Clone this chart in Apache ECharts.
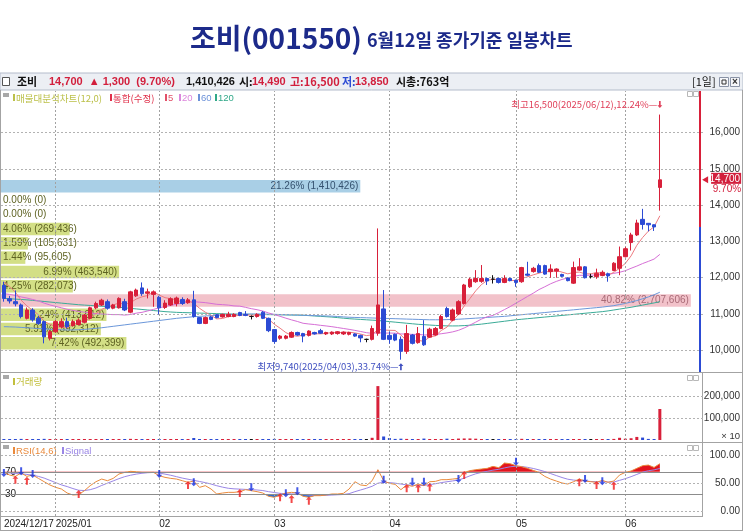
<!DOCTYPE html>
<html>
<head>
<meta charset="utf-8">
<script src="https://cdn.jsdelivr.net/npm/echarts@6.0.0/dist/echarts.min.js"></script>
<style>
html,body{margin:0;padding:0;background:#ffffff;}
#chart{width:743px;height:532px;}
</style>
</head>
<body>
<div id="chart"></div>
<script>
// ================= DATA =================
const tradingDays = {
  '2024/12': [17,18,19,20,23,24,26,27,30],
  '2025/01': [2,3,6,7,8,9,10,13,14,15,16,17,20,21,22,23,24,31],
  '2025/02': [3,4,5,6,7,10,11,12,13,14,17,18,19,20,21,24,25,26,27,28],
  '2025/03': [4,5,6,7,10,11,12,13,14,17,18,19,20,21,24,25,26,27,28,31],
  '2025/04': [1,2,3,4,7,8,9,10,11,14,15,16,17,18,21,22,23,24,25,28,29,30],
  '2025/05': [2,7,8,9,12,13,14,15,16,19,20,21,22,23,26,27,28,29,30],
  '2025/06': [2,4,5,9,10,11,12]
};
const tickDates  = ['2024/12/17','2025/01/02','2025/02/03','2025/03/04','2025/04/01','2025/05/02','2025/06/02'];
const tickLabels = ['2024/12/17','2025/01','02','03','04','05','06'];

const opens = [11790,11420,11340,11250,10880,11110,10880,10790,10330,10510,
10650,10790,10680,10710,10770,10880,11170,11250,11340,11160,
11170,11340,11050,11500,11720,11570,11540,11460,11180,11250,
11290,11400,11310,11390,10900,10740,10920,10980,10920,10930,
10930,11040,10990,10930,10930,11050,10880,10570,10330,10330,
10360,10490,10460,10410,10490,10540,10450,10450,10460,10450,
10440,10450,10410,10300,10300,10470,11140,10410,10440,10300,
9970,10420,10210,10380,10360,10420,10600,11150,10830,11000,
11290,11750,11890,11900,11980,11960,11980,11870,11980,11930,
11890,12100,12170,12335,12335,12170,12180,12090,11990,11850,
12210,12300,12030,12030,12060,12110,12200,12260,12580,12970,
13180,13610,13500,13460,14490];
const closes = [11430,11360,11280,10930,11110,10840,10740,10370,10510,10790,
10790,10650,10790,10830,10970,11170,11290,11380,11160,11250,
11430,11110,11610,11660,11560,11610,11610,11170,11300,11420,
11440,11290,11390,10930,10740,10900,10850,10900,10990,10990,
10990,10960,10960,10930,10990,10880,10540,10240,10390,10390,
10490,10420,10390,10530,10450,10470,10490,10500,10510,10500,
10490,10390,10340,10300,10600,11250,10300,10300,10280,9970,
10460,10190,10460,10150,10580,10600,10930,10930,11110,11340,
11800,11960,11980,11980,11910,11960,11870,11980,11920,11870,
12280,12070,12260,12150,12100,12240,12240,12040,11920,12280,
12300,12000,12030,12120,12150,12050,12400,12580,12800,13180,
13510,13470,13460,13400,14700];
const lows = [11340,11290,11210,10880,10850,10790,10700,10190,10270,10480,
10600,10600,10650,10680,10740,10850,11130,11220,11120,11130,
11150,11080,11020,11470,11500,11430,11200,10990,11140,11220,
11210,11250,11280,10900,10720,10720,10830,10880,10900,10910,
10910,10940,10940,10850,10900,10860,10500,10180,10290,10300,
10340,10400,10220,10380,10430,10450,10420,10420,10430,10420,
10410,10370,10220,10220,10270,10400,10280,10180,10250,9740,
9900,10160,10180,10120,10340,10400,10580,10900,10800,10970,
11260,11720,11860,11860,11800,11840,11840,11850,11900,11750,
11860,12040,12140,12130,12080,12000,12000,12020,11900,11830,
12190,11980,11980,11970,12040,11890,12180,12070,12560,12750,
13150,13330,13280,13290,13850];
const highs = [11890,11500,11650,11290,11180,11160,10950,10820,10560,10830,
10880,10900,10850,10880,11000,11200,11340,11420,11400,11280,
11460,11420,11640,11700,11870,11700,11650,11500,11380,11460,
11480,11460,11440,11640,10920,10930,10950,11000,11010,11060,
11020,11060,11080,10960,11020,11080,10900,10580,10420,10420,
10520,10510,10480,10550,10510,10590,10510,10520,10530,10520,
10510,10470,10430,10320,10680,13360,11660,10510,10460,10380,
10700,10450,10640,10830,10620,10640,10980,11200,11150,11380,
11830,12000,12210,12350,12000,12070,12000,12070,12000,11950,
12300,12440,12300,12390,12360,12370,12260,12110,12010,12445,
12540,12320,12110,12250,12200,12140,12430,12860,12850,13240,
13600,13900,13510,13470,16500];
// volume in units of x10 shares
const volumes = [4500,3500,3800,5000,3200,3600,3000,5200,3400,3800,
3000,2800,2600,3000,3200,3800,3600,3200,2800,2600,
3400,3000,5200,3600,4200,3000,3200,4000,2600,2800,
3000,2600,2800,9000,4200,3000,2600,2400,2400,2600,
2400,2600,2400,2200,2400,3000,4200,5000,3000,2600,
2800,2400,3000,2600,2400,2600,2400,2400,2600,2400,
2400,2600,3000,2800,10000,245000,16000,9000,5000,6000,
5000,3600,4000,6500,3800,3400,4400,6000,4000,6500,
7000,7000,6000,4500,3800,3400,3600,3600,3200,3400,
5400,4000,3600,3400,3400,3200,2800,3000,3200,4600,
3800,3600,2800,3200,3000,3200,5000,10000,6000,8000,
14000,11000,5000,4000,141043];
const ma5 = [11880,11760,11600,11380,11222,11104,10980,10800,10714,10650,
10640,10622,10706,10770,10806,10882,11010,11128,11194,11250,
11302,11266,11312,11412,11474,11510,11610,11522,11450,11422,
11388,11324,11368,11294,11158,11050,10962,10864,10876,10926,
10944,10966,10978,10966,10966,10944,10860,10716,10608,10488,
10410,10386,10416,10444,10456,10452,10466,10488,10484,10494,
10498,10478,10446,10404,10424,10576,10558,10550,10546,10420,
10262,10240,10272,10246,10368,10396,10544,10638,10830,10982,
11222,11428,11638,11812,11926,11958,11940,11940,11928,11920,
11984,12024,12080,12126,12172,12164,12198,12154,12108,12144,
12156,12108,12106,12146,12120,12070,12150,12260,12396,12602,
12894,13108,13284,13404,13708];
const ma20 = [11560,11540,11510,11470,11440,11400,11360,11300,11250,11210,
11170,11130,11100,11070,11050,11030,11010,11000,10990,10982,
10982,10970,10986,11023,11045,11084,11127,11167,11207,11238,
11271,11303,11333,11338,11326,11313,11291,11267,11258,11245,
11223,11216,11183,11147,11118,11082,11028,10982,10936,10885,
10837,10794,10744,10724,10709,10688,10670,10650,10626,10601,
10576,10548,10517,10485,10466,10484,10472,10475,10470,10449,
10447,10436,10439,10420,10427,10433,10455,10477,10507,10549,
10614,10693,10775,10859,10924,10960,11038,11122,11204,11299,
11390,11484,11574,11674,11750,11832,11898,11953,11994,12041,
12066,12068,12070,12077,12089,12094,12120,12150,12194,12260,
12321,12391,12451,12514,12644];
const ma60 = [10650,10645,10640,10630,10620,10610,10600,10590,10580,10570,
10565,10560,10560,10565,10575,10590,10605,10620,10640,10660,
10680,10700,10720,10740,10760,10780,10800,10820,10840,10860,
10880,10895,10910,10925,10935,10945,10955,10965,10975,10980,
10985,10990,10995,11000,11000,11000,10995,10990,10985,10980,
10975,10970,10965,10960,10955,10950,10945,10940,10930,10920,
10910,10905,10900,10895,10890,10885,10880,10875,10870,10865,
10860,10855,10850,10845,10840,10840,10840,10845,10850,10855,
10865,10875,10885,10895,10905,10915,10925,10935,10950,10965,
10980,10995,11010,11025,11040,11055,11070,11085,11100,11115,
11130,11145,11160,11175,11190,11210,11230,11260,11290,11330,
11370,11420,11470,11530,11600];
const ma120 = [11430,11420,11410,11400,11390,11375,11360,11345,11330,11315,
11300,11285,11270,11255,11245,11235,11225,11215,11205,11195,
11185,11170,11155,11140,11125,11110,11095,11080,11065,11055,
11045,11040,11035,11030,11025,11020,11015,11010,11005,11000,
10998,10995,10992,10990,10987,10985,10982,10980,10977,10975,
10972,10970,10965,10955,10945,10935,10925,10915,10900,10885,
10870,10860,10850,10840,10830,10820,10805,10790,10775,10760,
10745,10730,10715,10705,10695,10685,10678,10672,10670,10672,
10680,10690,10705,10720,10740,10760,10780,10800,10820,10840,
10855,10870,10885,10900,10915,10930,10945,10960,10975,10990,
11005,11020,11035,11050,11065,11085,11110,11135,11160,11185,
11215,11245,11275,11305,11340];
const rsi = [69.1,64.4,62,68,62,64.4,58.5,52.6,46.8,42.6,
39.7,32.6,29.1,29.7,36.8,45.6,52.6,57.3,54.4,58.5,
66.2,69.1,70.9,70.3,69.1,69.1,69.1,63.2,60.3,58.5,
57.3,54.4,51.5,53.8,42.6,45.6,39.7,30.9,32.6,33.8,
33.8,35,38.5,36.8,35,32.6,26.8,25,29.1,32.6,
33.8,32.6,26.8,25,27.9,27.9,29.1,30.9,30.9,32,
39.7,52.6,46.8,45.6,54.4,73.8,54.4,49.7,47.9,38.5,
46.8,44.4,48.5,45.6,52.6,53.2,56.2,56.2,57.3,58.5,
69.1,72.1,73.8,75,76.2,79.7,77.3,85.6,84.4,80.9,
79.1,76.2,72.6,69.1,62,57.3,53.8,50.3,48.5,52.6,
57.3,53.8,52.6,51.5,55,51.5,53.8,64.4,69.1,71.5,
76.2,80.9,82,77.9,84.4];
const rsiSignal = [69,68,67,66.5,65.5,64,62,59,55,51,
47,44,40.5,37.5,37,38.5,41.5,46,50,54,
58,61.5,64,66,67.5,68.5,69,68,66,64,
61.5,59,57,55,53,51,48.5,45.5,43,41,
40,39.5,39,38.5,38,37,35,33.5,32,31.5,
31,30.5,30,29,28.5,28.5,28.5,29,29.5,30,
31.5,35,38,41,44.5,50,51.5,51,50,48.5,
47,46.5,46,46,47.5,49,51,52.5,54,55.5,
59,63,66.5,69,71,73,74.5,77,79,80,
79.5,78,76,73.5,70.5,67,63.5,60,57,55.5,
54.5,54,53,52.5,52.5,52,52,55,58,61.5,
65.5,69.5,72,73.5,76];
// [day index, RSI level of arrow]
const buySignals  = [[2,56.2],[4,54.4],[13,31],[32,46.8],[41,32.6],[48,25],[50,22],[53,19.1],[70,40.9],[72,40.9],[74,42.6],[80,64.4],[100,51.5],[103,46.8],[106,45.6]];
const sellSignals = [[0,67.9],[3,70.9],[5,66.2],[27,66.2],[33,51.5],[43,42.6],[49,32],[51,35.6],[66,56.2],[71,52.6],[73,52.6],[79,57.3],[89,87.9],[101,57.3],[104,53.2]];

// volume profile (매물대) bands, top to bottom
const bandPct = [21.26,0,0,4.06,1.59,1.44,6.99,4.25,40.82,6.24,5.91,7.42];
const bandVol = [1410426,0,0,269436,105631,95605,463540,282073,2707606,413912,392312,492399];

const priceTicks = [10000,11000,12000,13000,14000,15000,16000];
const volTicks = [100000,200000];
const rsiTicks = [0,50,100];
const rsiLevels = [30,70];

const stockName = '조비', stockCode = '001550';
const lastClose = 14700, change = 1300, changePct = 9.70, todayVol = 1410426;
const todayOpen = 14490, todayHigh = 16500, todayLow = 13850, marketCap = '763억';

// ================= CHART =================
const FONT = "'Liberation Sans','Noto Sans CJK KR',sans-serif";
const KFONT = "'Noto Sans CJK KR','Liberation Sans',sans-serif";
const UP = '#d8203a', DN = '#2c4bd4', DOJI = '#111111';
const fmt = v => v.toLocaleString('en-US');

const dates = [];
Object.keys(tradingDays).forEach(ym => tradingDays[ym].forEach(d => dates.push(ym + '/' + String(d).padStart(2, '0'))));
const cats = dates.concat(['p1','p2','p3','p4','p5','p6','p7']);
const edgeCat = cats[cats.length - 1];
const prevClose = lastClose - change;
const Y_MIN = 9400, Y_MAX = 17150;

let hiIdx = 0, loIdx = 0;
highs.forEach((h, i) => { if (h > highs[hiIdx]) hiIdx = i; });
lows.forEach((l, i) => { if (l < lows[loIdx]) loIdx = i; });
const hiPct = ((highs[hiIdx] - lastClose) / lastClose * 100).toFixed(2);
const loPct = ((lastClose - lows[loIdx]) / lastClose * 100).toFixed(2);

const ARROW_UP = 'path://M3,0L6,4L4,4L4,10L2,10L2,4L0,4Z';
const ARROW_DN = 'path://M2,0L4,0L4,6L6,6L3,10L0,6L2,6Z';

const maxBand = Math.max(...bandPct);
const bandData = bandPct.map((p, i) => {
  const isCur = i === 0, isMax = p === maxBand;
  return {
    value: p,
    itemStyle: { color: isCur ? '#a9cfe6' : isMax ? '#f2c2ca' : '#d3df86' },
    label: {
      position: p * 16.9 > 78 ? 'insideRight' : 'insideLeft',
      distance: 2,
      color: isCur ? '#34506e' : isMax ? '#a86a76' : '#5e6222'
    }
  };
});

const catAxis = (gi, showLabels) => ({
  type: 'category', gridIndex: gi, data: cats, boundaryGap: true,
  axisLine: { show: false }, axisTick: { show: false }, splitLine: { show: false },
  axisLabel: showLabels ? {
    show: true, interval: (idx) => tickDates.indexOf(cats[idx]) >= 0,
    formatter: (v) => tickLabels[tickDates.indexOf(v)] || '',
    align: 'left', margin: 3, fontSize: 10, color: '#222', fontFamily: FONT
  } : { show: false }
});

const rightLabel = (vals, f) => ({
  show: true, customValues: vals, formatter: f, align: 'right', margin: 37,
  fontSize: 10, color: '#333', fontFamily: FONT
});

// grid guide lines (dotted), drawn as markLines on the first series of each pane
const vGuide = { color: '#a2a2a2', width: 1, type: [2, 2] };
const hGuide = { color: '#b2b2b2', width: 1, type: [2, 2] };
const guideLines = (yTicks) => ({
  silent: true, symbol: ['none', 'none'], label: { show: false }, animation: false, precision: 10,
  data: tickDates.slice(1).map(d => ({ xAxis: d, lineStyle: vGuide }))
    .concat(yTicks.map(v => ({ yAxis: v, lineStyle: hGuide })))
});

const option = {
  animation: false,
  backgroundColor: '#ffffff',
  textStyle: { fontFamily: FONT },
  grid: [
    { left: 1, right: 40, top: 91, height: 281, outerBoundsMode: 'none' },
    { left: 1, right: 40, top: 374, height: 66, outerBoundsMode: 'none' },
    { left: 1, right: 40, top: 443, height: 73, outerBoundsMode: 'none' },
    { left: 1, right: 40, top: 179, height: 171.5, outerBoundsMode: 'none' }
  ],
  xAxis: [
    catAxis(0, false), catAxis(1, false), catAxis(2, true),
    { type: 'value', gridIndex: 3, min: 0, max: 702 / 16.9, show: false }
  ],
  yAxis: [
    { type: 'value', gridIndex: 0, position: 'right', min: Y_MIN, max: Y_MAX,
      axisLine: { show: false }, axisTick: { show: false }, splitLine: { show: false },
      axisLabel: rightLabel(priceTicks, fmt) },
    { type: 'value', gridIndex: 1, position: 'right', min: 0, max: 300000,
      axisLine: { show: false }, axisTick: { show: false }, splitLine: { show: false },
      axisLabel: rightLabel(volTicks, fmt) },
    { type: 'value', gridIndex: 2, position: 'right', min: -8, max: 121,
      axisLine: { show: false }, axisTick: { show: false }, splitLine: { show: false },
      axisLabel: rightLabel(rsiTicks, v => v.toFixed(2)) },
    { type: 'value', gridIndex: 2, position: 'left', min: -8, max: 121,
      axisLine: { show: false }, axisTick: { show: false }, splitLine: { show: false },
      axisLabel: { show: true, inside: true, customValues: rsiLevels, margin: 4, fontSize: 10, color: '#222', fontFamily: FONT } },
    { type: 'category', gridIndex: 3, inverse: true, data: bandPct.map((p, i) => 'b' + i), show: false }
  ],
  visualMap: [{
    type: 'piecewise', show: false, seriesIndex: 8, dimension: 1,
    pieces: [
      { gt: 70, color: '#e3141e' },
      { lt: 30, color: '#2f6fd0' },
      { gte: 30, lte: 70, color: 'rgba(255,255,255,0)' }
    ]
  }],
  series: [
    // 0 volume profile
    { type: 'bar', xAxisIndex: 3, yAxisIndex: 4, data: bandData, barWidth: 12.5, z: 1, silent: true,
      label: { show: true, fontSize: 10, fontFamily: FONT,
        formatter: p => bandPct[p.dataIndex].toFixed(2) + '% (' + fmt(bandVol[p.dataIndex]) + ')' } },
    // 1 MA120 (carries price-pane guides)
    { type: 'line', xAxisIndex: 0, yAxisIndex: 0, data: ma120, showSymbol: false, z: 3, silent: true,
      lineStyle: { color: '#3aab97', width: 1 }, markLine: guideLines(priceTicks) },
    // 2 MA60
    { type: 'line', xAxisIndex: 0, yAxisIndex: 0, data: ma60, showSymbol: false, z: 3, silent: true,
      lineStyle: { color: '#6b97da', width: 1 } },
    // 3 MA20
    { type: 'line', xAxisIndex: 0, yAxisIndex: 0, data: ma20, showSymbol: false, z: 3, silent: true,
      lineStyle: { color: '#d66fd6', width: 1 } },
    // 4 MA5
    { type: 'line', xAxisIndex: 0, yAxisIndex: 0, data: ma5, showSymbol: false, z: 3, silent: true,
      lineStyle: { color: '#ee7b80', width: 1 } },
    // 5 candles
    { type: 'candlestick', xAxisIndex: 0, yAxisIndex: 0, z: 5, barWidth: 4,
      data: dates.map((d, i) => [opens[i], closes[i], lows[i], highs[i]]),
      itemStyle: { color: UP, color0: DN, borderColor: UP, borderColor0: DN, borderColorDoji: DOJI, borderWidth: 1 },
      markLine: { silent: true, symbol: ['none', 'none'], label: { show: false }, animation: false,
        data: [
          [{ coord: [edgeCat, Y_MIN], lineStyle: { color: DN, width: 2, type: 'solid' } }, { coord: [edgeCat, prevClose] }],
          [{ coord: [edgeCat, prevClose], lineStyle: { color: UP, width: 2, type: 'solid' } }, { coord: [edgeCat, Y_MAX] }]
        ] },
      markPoint: { silent: true, animation: false, data: [
        { coord: [dates[hiIdx], highs[hiIdx]], symbol: ARROW_DN, symbolSize: [5, 7], symbolOffset: [0, -10],
          itemStyle: { color: '#e0405a' },
          label: { show: true, position: 'left', distance: 0, color: '#e0405a', fontSize: 9.5, fontFamily: KFONT,
            formatter: '최고' + fmt(highs[hiIdx]) + '(' + dates[hiIdx] + '),' + hiPct + '%—' } },
        { coord: [dates[loIdx], lows[loIdx]], symbol: ARROW_UP, symbolSize: [5, 7], symbolOffset: [0, 7],
          itemStyle: { color: '#4050c0' },
          label: { show: true, position: 'left', distance: 0, color: '#4050c0', fontSize: 9.5, fontFamily: KFONT,
            formatter: '최저' + fmt(lows[loIdx]) + '(' + dates[loIdx] + '),' + loPct + '%—' } },
        { coord: [edgeCat, lastClose], symbol: 'triangle', symbolRotate: 90, symbolSize: [7, 6], symbolOffset: [5, 0],
          itemStyle: { color: UP },
          label: { show: true, position: 'right', distance: 3, offset: [0, 4],
            formatter: '{a|' + fmt(lastClose) + '}\n{b|' + changePct.toFixed(2) + '%}',
            rich: {
              a: { backgroundColor: '#d21f3c', color: '#fff', fontSize: 10, width: 29, align: 'right', padding: [1, 1, 0, 0], lineHeight: 11, fontFamily: FONT },
              b: { color: '#d21f3c', fontSize: 10, width: 29, align: 'right', lineHeight: 11, fontFamily: FONT }
            } } }
      ] } },
    // 6 volume
    { type: 'bar', xAxisIndex: 1, yAxisIndex: 1, data: volumes, barWidth: 3, barMinHeight: 1, silent: true, z: 3,
      itemStyle: { color: p => closes[p.dataIndex] > opens[p.dataIndex] ? UP : (closes[p.dataIndex] < opens[p.dataIndex] ? DN : DOJI) },
      markLine: guideLines(volTicks) },
    // 7 RSI signal
    { type: 'line', xAxisIndex: 2, yAxisIndex: 2, data: rsiSignal, showSymbol: false, silent: true, z: 3,
      lineStyle: { color: '#9a86e6', width: 1 }, markLine: guideLines(rsiTicks) },
    // 8 RSI fill
    { type: 'line', xAxisIndex: 2, yAxisIndex: 2, data: rsi, showSymbol: false, silent: true, z: 2,
      lineStyle: { width: 0 }, areaStyle: { origin: 70, opacity: 1 } },
    // 9 RSI line
    { type: 'line', xAxisIndex: 2, yAxisIndex: 2, data: rsi, showSymbol: false, silent: true, z: 4,
      lineStyle: { color: '#ea8a3c', width: 1 },
      markLine: { silent: true, symbol: ['none', 'none'], label: { show: false }, animation: false,
        data: rsiLevels.map(v => ({ yAxis: v, lineStyle: { color: '#8c8c8c', width: 1, type: 'solid' } })) } },
    // 10 buy arrows
    { type: 'scatter', xAxisIndex: 2, yAxisIndex: 2, data: buySignals.map(s => [cats[s[0]], s[1]]), z: 6, silent: true,
      symbol: ARROW_UP, symbolSize: [6, 8], itemStyle: { color: '#f01c1c' } },
    // 11 sell arrows
    { type: 'scatter', xAxisIndex: 2, yAxisIndex: 2, data: sellSignals.map(s => [cats[s[0]], s[1]]), z: 6, silent: true,
      symbol: ARROW_DN, symbolSize: [6, 8], itemStyle: { color: '#1530e0' } }
  ],
  graphic: [
    // title
    { type: 'text', x: 190, y: 38, style: { text: stockName + '(' + stockCode + ')', fill: '#1c2a8a', font: "bold 28px 'Noto Sans CJK KR', sans-serif", verticalAlign: 'middle' } },
    { type: 'text', x: 367, y: 40, style: { text: '6월12일 종가기준 일봉차트', fill: '#1c2a8a', font: "bold 18px 'Noto Sans CJK KR', sans-serif", verticalAlign: 'middle' } },
    // header bar
    { type: 'rect', shape: { x: 0, y: 73, width: 743, height: 17 }, style: { fill: '#eceff4', stroke: '#b4bccb', lineWidth: 1 }, z: 0 },
    { type: 'rect', shape: { x: 2.5, y: 77.5, width: 7, height: 8 }, style: { fill: '#fff', stroke: '#555', lineWidth: 1 } },
    { type: 'text', x: 17, y: 82, style: { text: stockName, fill: '#111', font: "bold 11px 'Noto Sans CJK KR'", verticalAlign: 'middle' } },
    { type: 'text', x: 49, y: 82, style: { text: fmt(lastClose) + '  ▲ ' + fmt(change) + '  (' + changePct.toFixed(2) + '%)', fill: '#d21f3c', font: "bold 11px " + FONT, verticalAlign: 'middle' } },
    { type: 'text', x: 186, y: 82, style: { text: fmt(todayVol), fill: '#111', font: "bold 11px " + FONT, verticalAlign: 'middle' } },
    { type: 'text', x: 239, y: 82, style: { text: '시:', fill: '#111', font: "bold 11px " + KFONT, verticalAlign: 'middle' } },
    { type: 'text', x: 252, y: 82, style: { text: fmt(todayOpen), fill: '#d21f3c', font: "bold 11px " + FONT, verticalAlign: 'middle' } },
    { type: 'text', x: 290, y: 82, style: { text: '고:' + fmt(todayHigh), fill: '#d21f3c', font: "bold 11px " + KFONT, verticalAlign: 'middle' } },
    { type: 'text', x: 342, y: 82, style: { text: '저:', fill: '#2c4bd4', font: "bold 11px " + KFONT, verticalAlign: 'middle' } },
    { type: 'text', x: 355, y: 82, style: { text: fmt(todayLow), fill: '#d21f3c', font: "bold 11px " + FONT, verticalAlign: 'middle' } },
    { type: 'text', x: 396, y: 82, style: { text: '시총:' + marketCap, fill: '#111', font: "bold 11px " + KFONT, verticalAlign: 'middle' } },
    { type: 'text', x: 692, y: 82, style: { text: '[1일]', fill: '#111', font: "11px " + KFONT, verticalAlign: 'middle' } },
    { type: 'rect', shape: { x: 719.5, y: 77.5, width: 9, height: 9 }, style: { fill: '#f6f7fa', stroke: '#8a93a6', lineWidth: 1 } },
    { type: 'rect', shape: { x: 730.5, y: 77.5, width: 9, height: 9 }, style: { fill: '#f6f7fa', stroke: '#8a93a6', lineWidth: 1 } },
    { type: 'text', x: 735, y: 82, style: { text: '×', fill: '#333', font: 'bold 10px ' + FONT, align: 'center', verticalAlign: 'middle' } },
    { type: 'rect', shape: { x: 722, y: 80, width: 4, height: 4 }, style: { fill: 'none', stroke: '#333', lineWidth: 1 } },
    // pane frame lines
    { type: 'line', shape: { x1: 0, y1: 372.5, x2: 743, y2: 372.5 }, style: { stroke: '#a3a3a3', lineWidth: 1 } },
    { type: 'line', shape: { x1: 0, y1: 442.5, x2: 743, y2: 442.5 }, style: { stroke: '#a3a3a3', lineWidth: 1 } },
    { type: 'line', shape: { x1: 0, y1: 516.5, x2: 702, y2: 516.5 }, style: { stroke: '#a3a3a3', lineWidth: 1 } },
    { type: 'line', shape: { x1: 702.5, y1: 372, x2: 702.5, y2: 517 }, style: { stroke: '#a3a3a3', lineWidth: 1 } },
    { type: 'line', shape: { x1: 0.5, y1: 90, x2: 0.5, y2: 531 }, style: { stroke: '#a3a3a3', lineWidth: 1 } },
    { type: 'line', shape: { x1: 742.5, y1: 90, x2: 742.5, y2: 531 }, style: { stroke: '#a3a3a3', lineWidth: 1 } },
    { type: 'line', shape: { x1: 0, y1: 530.5, x2: 743, y2: 530.5 }, style: { stroke: '#a3a3a3', lineWidth: 1 } },
    // pane icons
    { type: 'rect', shape: { x: 3, y: 93, width: 6, height: 4 }, style: { fill: '#a8a8a8' } },
    { type: 'rect', shape: { x: 3, y: 375, width: 6, height: 4 }, style: { fill: '#a8a8a8' } },
    { type: 'rect', shape: { x: 3, y: 445, width: 6, height: 4 }, style: { fill: '#a8a8a8' } },
    { type: 'rect', shape: { x: 687.5, y: 91.5, width: 5, height: 5 }, style: { fill: '#fff', stroke: '#b8b8b8' } },
    { type: 'rect', shape: { x: 693.5, y: 91.5, width: 5, height: 5 }, style: { fill: '#fff', stroke: '#b8b8b8' } },
    { type: 'rect', shape: { x: 687.5, y: 375.5, width: 5, height: 5 }, style: { fill: '#fff', stroke: '#b8b8b8' } },
    { type: 'rect', shape: { x: 693.5, y: 375.5, width: 5, height: 5 }, style: { fill: '#fff', stroke: '#b8b8b8' } },
    { type: 'rect', shape: { x: 687.5, y: 445.5, width: 5, height: 5 }, style: { fill: '#fff', stroke: '#b8b8b8' } },
    { type: 'rect', shape: { x: 693.5, y: 445.5, width: 5, height: 5 }, style: { fill: '#fff', stroke: '#b8b8b8' } },
    // main legend
    { type: 'rect', shape: { x: 13, y: 94, width: 2, height: 7 }, style: { fill: '#bcc04a' } },
    { type: 'text', x: 16, y: 98, style: { text: '매물대분석차트(12,0)', fill: '#bcc04a', font: "9.5px " + KFONT, verticalAlign: 'middle' } },
    { type: 'rect', shape: { x: 110, y: 94, width: 2, height: 7 }, style: { fill: '#e0304a' } },
    { type: 'text', x: 113, y: 98, style: { text: '통합(수정)', fill: '#e0304a', font: "9.5px " + KFONT, verticalAlign: 'middle' } },
    { type: 'rect', shape: { x: 165, y: 94, width: 2, height: 7 }, style: { fill: '#e25068' } },
    { type: 'text', x: 168, y: 98, style: { text: '5', fill: '#e25068', font: "9.5px " + FONT, verticalAlign: 'middle' } },
    { type: 'rect', shape: { x: 179, y: 94, width: 2, height: 7 }, style: { fill: '#dc86dc' } },
    { type: 'text', x: 182, y: 98, style: { text: '20', fill: '#dc86dc', font: "9.5px " + FONT, verticalAlign: 'middle' } },
    { type: 'rect', shape: { x: 198, y: 94, width: 2, height: 7 }, style: { fill: '#6a90d8' } },
    { type: 'text', x: 201, y: 98, style: { text: '60', fill: '#6a90d8', font: "9.5px " + FONT, verticalAlign: 'middle' } },
    { type: 'rect', shape: { x: 215, y: 94, width: 2, height: 7 }, style: { fill: '#30a888' } },
    { type: 'text', x: 218, y: 98, style: { text: '120', fill: '#30a888', font: "9.5px " + FONT, verticalAlign: 'middle' } },
    // volume legend
    { type: 'rect', shape: { x: 13, y: 378, width: 2, height: 7 }, style: { fill: '#c2bf3c' } },
    { type: 'text', x: 16, y: 381, style: { text: '거래량', fill: '#c2bf3c', font: "9.5px " + KFONT, verticalAlign: 'middle' } },
    { type: 'text', x: 740, y: 436, style: { text: '× 10', fill: '#333', font: "9.5px " + FONT, align: 'right', verticalAlign: 'middle' } },
    // RSI legend
    { type: 'rect', shape: { x: 13, y: 447, width: 2, height: 7 }, style: { fill: '#ea8a3c' } },
    { type: 'text', x: 16, y: 451, style: { text: 'RSI(14,6)', fill: '#ea8a3c', font: "9.5px " + FONT, verticalAlign: 'middle' } },
    { type: 'rect', shape: { x: 62, y: 447, width: 2, height: 7 }, style: { fill: '#9a86e6' } },
    { type: 'text', x: 65, y: 451, style: { text: 'Signal', fill: '#9a86e6', font: "9.5px " + FONT, verticalAlign: 'middle' } }
  ]
};

const chart = echarts.init(document.getElementById('chart'), null, { renderer: 'canvas' });
chart.setOption(option);
</script>
</body>
</html>
